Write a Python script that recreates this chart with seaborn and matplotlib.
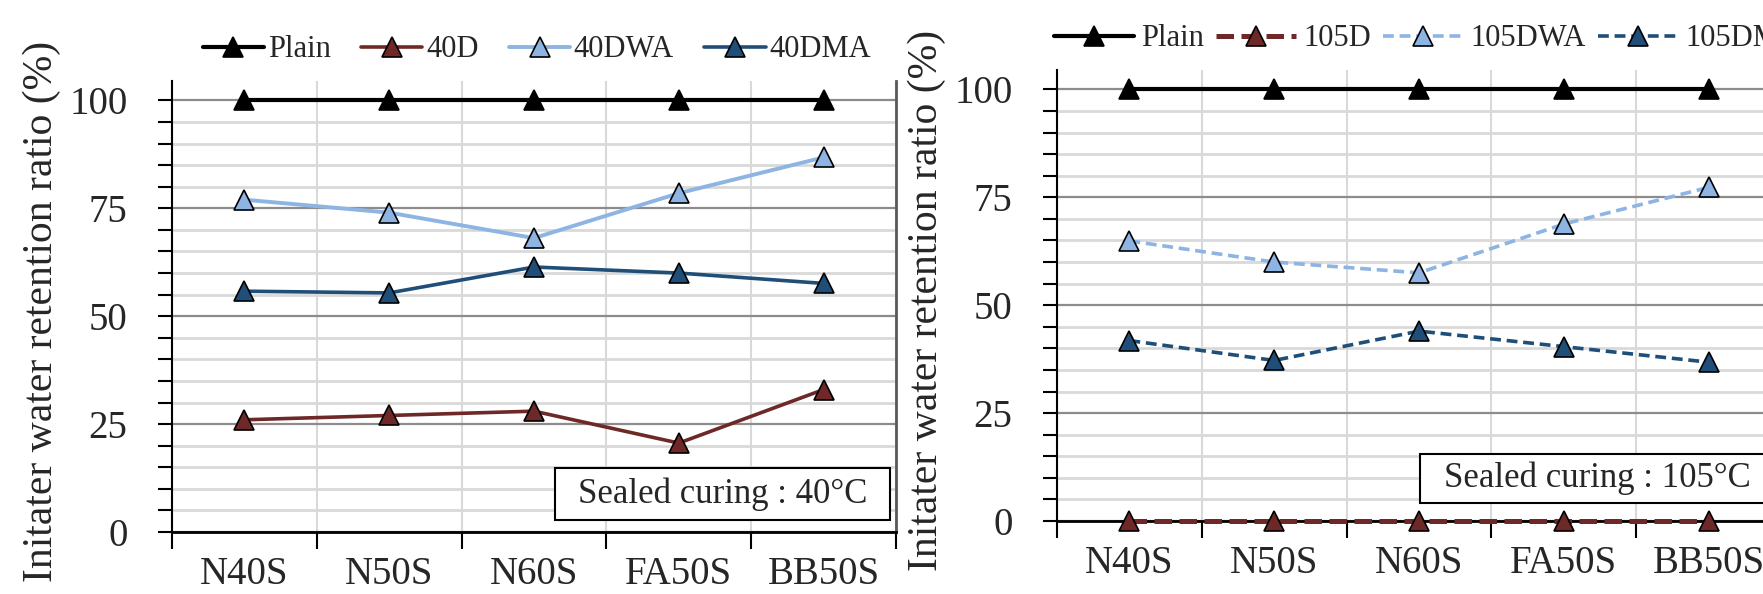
import numpy as np
import matplotlib
matplotlib.use("Agg")
import matplotlib.pyplot as plt
from matplotlib.patches import Rectangle
from matplotlib.ticker import MultipleLocator
import seaborn as sns

# data
categories = ["N40S", "N50S", "N60S", "FA50S", "BB50S"]

plain = [100, 100, 100, 100, 100]
d40 = [26.0, 27.0, 28.0, 20.6, 33.0]
dwa40 = [77.0, 74.0, 68.1, 78.5, 86.8]
dma40 = [55.8, 55.4, 61.4, 60.0, 57.6]

d105 = [0, 0, 0, 0, 0]
dwa105 = [64.9, 60.0, 57.5, 68.8, 77.3]
dma105 = [41.8, 37.2, 44.0, 40.4, 36.8]

ylabel = "Initater water retention ratio (%)"
box_left = "Sealed curing : 40°C"
box_right = "Sealed curing : 105°C"

BLACK = "#000000"
MAROON = "#6E2828"
LIGHT = "#8DB4E2"
DARK = "#1F4E79"

sns.set_theme(style="white")
plt.rcParams["font.family"] = ["Liberation Serif", "DejaVu Serif"]


def draw_series(ax, series):
    x = np.arange(len(categories))
    for label, vals, color, lw, ls in series:
        sns.lineplot(
            x=x, y=vals, ax=ax, color=color, lw=lw, linestyle=ls,
            marker="^", markersize=14, markeredgecolor="black",
            markeredgewidth=1.2, label=label, legend=False, errorbar=None,
            sort=False, zorder=3, clip_on=False,
        )


def style_axes(ax, right_spine=True):
    n = len(categories)
    ax.set_xlim(-0.5, n - 0.5)
    ax.set_ylim(0, 104.5)

    ax.set_xticks(np.arange(n))
    ax.set_xticklabels(categories)
    ax.set_xticks(np.arange(-0.5, n), minor=True)
    ax.set_yticks([0, 25, 50, 75, 100])
    ax.yaxis.set_minor_locator(MultipleLocator(5))

    ax.tick_params(axis="x", which="major", length=0, pad=17, labelsize=28,
                   bottom=True)
    ax.tick_params(axis="x", which="minor", length=12, width=1.5,
                   direction="out", color="black", bottom=True)
    ax.tick_params(axis="y", which="both", length=10, width=1.5,
                   direction="out", color="black", left=True)
    ax.tick_params(axis="y", which="major", labelsize=28, pad=22)

    ax.grid(False, which="major", axis="x")
    ax.grid(True, which="minor", axis="x", color="#D9D9D9", lw=1.5)
    ax.grid(True, which="major", axis="y", color="#8C8C8C", lw=1.6)
    ax.grid(True, which="minor", axis="y", color="#D9D9D9", lw=2)
    ax.set_axisbelow(True)

    ax.spines["top"].set_visible(False)
    ax.spines["left"].set_color("black")
    ax.spines["left"].set_linewidth(1.5)
    ax.spines["bottom"].set_color("black")
    ax.spines["bottom"].set_linewidth(2)
    if right_spine:
        ax.spines["right"].set_color("#595959")
        ax.spines["right"].set_linewidth(2)
    else:
        ax.spines["right"].set_visible(False)

    ax.set_ylabel(ylabel, fontsize=30)
    ax.yaxis.set_label_coords(-0.153, 0.49)
    ax.set_xlabel("")


def add_box(ax, x0, y0, w, h, text):
    ax.add_patch(Rectangle((x0, y0), w, h, transform=ax.transAxes,
                           facecolor="white", edgecolor="black", lw=1.5,
                           zorder=4))
    ax.text(x0 + w / 2, y0 + h / 2, text, transform=ax.transAxes,
            ha="center", va="center", fontsize=25, zorder=5)


fig = plt.figure(figsize=(17.63, 5.94), dpi=100)
ax1 = fig.add_axes([0.09756, 0.10438, 0.41066, 0.75926])
ax2 = fig.add_axes([0.59955, 0.12290, 0.41066, 0.75926])

# left panel: 40 C
draw_series(ax1, [
    ("Plain", plain, BLACK, 3, "-"),
    ("40D", d40, MAROON, 2.6, "-"),
    ("40DWA", dwa40, LIGHT, 2.8, "-"),
    ("40DMA", dma40, DARK, 2.6, "-"),
])
style_axes(ax1, right_spine=True)
add_box(ax1, 0.529, 0.027, 0.463, 0.115, box_left)
ax1.legend(loc="center", bbox_to_anchor=(0.504, 1.069), ncol=4, frameon=False,
           fontsize=22, handlelength=2.0, handletextpad=0.12,
           columnspacing=1.0, borderpad=0, borderaxespad=0)

# right panel: 105 C
draw_series(ax2, [
    ("Plain", plain, BLACK, 3, "-"),
    ("105D", d105, MAROON, 3.6, (0, (3.5, 1.5))),
    ("105DWA", dwa105, LIGHT, 2.6, (0, (3, 1.6))),
    ("105DMA", dma105, DARK, 2.6, (0, (3, 1.6))),
])
style_axes(ax2, right_spine=False)
add_box(ax2, 0.501, 0.04, 0.49, 0.108, box_right)
ax2.legend(loc="center left", bbox_to_anchor=(-0.004, 1.069), ncol=4,
           frameon=False, fontsize=22, handlelength=2.6, handletextpad=0.25,
           columnspacing=0.4, borderpad=0, borderaxespad=0)

fig.savefig("out.png", dpi=100)
plt.close(fig)
